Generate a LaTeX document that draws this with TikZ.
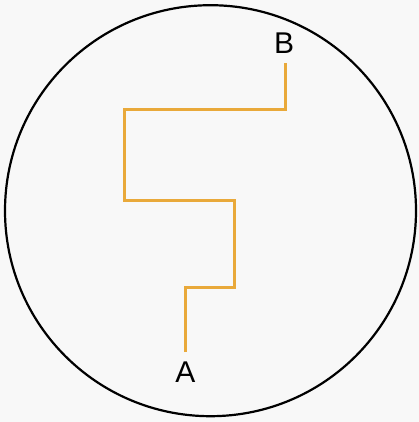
\documentclass[tikz,border=0pt]{standalone}
\usepackage{fontspec}
\setmainfont{Liberation Sans}
\usepackage{xcolor}
\usetikzlibrary{positioning}
\definecolor{bgfill}{HTML}{F8F8F8}
\definecolor{routedraw}{HTML}{E9A93A}
\tikzset{
  rim/.style={draw=black, line width=2.2pt},
  route/.style={draw=routedraw, line width=3pt},
  endlab/.style={font=\fontsize{30}{34}\selectfont, text=black, inner sep=0pt},
}
\begin{document}
\begin{tikzpicture}[x=1pt, y=-1pt]
  \fill[bgfill] (0,0) rectangle (419,422);
  \useasboundingbox (0,0) rectangle (419,422);

  \draw[rim] (210.5,210.7) circle[radius=205.5pt];

  \node[endlab] (lA) at (185.5,372.5) {A};
  \node[endlab] (lB) at (284,43.3) {B};

  \coordinate (pA) at (185,352);
  \coordinate (pB) at (285.5,63.5);
  \draw[route] (pA) -- (185,287) -- (234,287) -- (234,200) -- (124,200)
    -- (124,110) -- (285.5,110) -- (pB);
\end{tikzpicture}
\end{document}
